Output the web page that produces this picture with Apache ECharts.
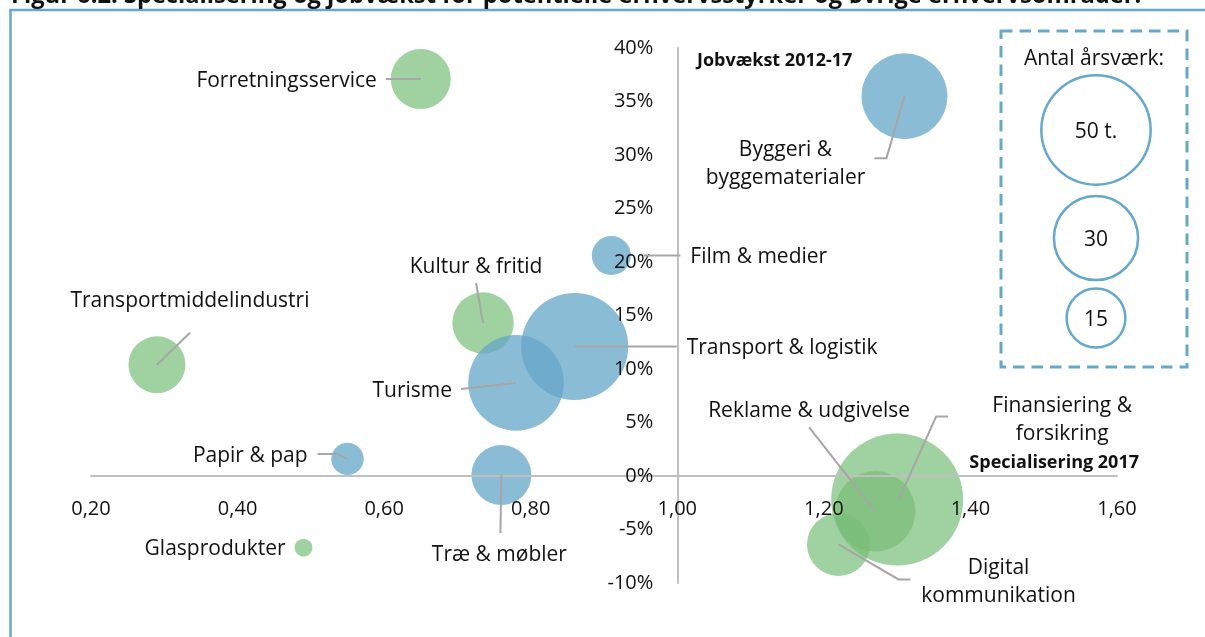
<!DOCTYPE html>
<html>
<head>
<meta charset="utf-8">
<script src="https://cdn.jsdelivr.net/npm/echarts@6/dist/echarts.min.js"></script>
<style>
html,body{margin:0;padding:0;background:#fff;}
#chart{width:1205px;height:637px;}
</style>
</head>
<body>
<div id="chart"></div>
<script>
// ---------- DATA ----------
// Green group (øvrige erhvervsområder)
const greenNames = ['Forretningsservice', 'Transportmiddelindustri', 'Kultur & fritid', 'Glasprodukter',
  'Finansiering & forsikring', 'Reklame & udgivelse', 'Digital kommunikation'];
const greenSpec = [0.65, 0.29, 0.735, 0.49, 1.30, 1.27, 1.22];      // Specialisering 2017
const greenJob = [37.1, 10.4, 14.3, -6.7, -2.2, -3.3, -6.4];        // Jobvækst 2012-17 (%)
const greenEmp = [14.4, 13.0, 15.1, 1.3, 69.8, 25.9, 15.9];        // Antal årsværk (t.)

// Blue group (potentielle erhvervsstyrker)
const blueNames = ['Byggeri & byggematerialer', 'Film & medier', 'Transport & logistik', 'Turisme',
  'Papir & pap', 'Træ & møbler'];
const blueSpec = [1.31, 0.91, 0.86, 0.78, 0.55, 0.76];
const blueJob = [35.5, 20.6, 12.1, 8.7, 1.6, 0.1];
const blueEmp = [29.6, 6.1, 45.9, 36.6, 4.2, 14.4];

// Axis ticks
const xTicks = { min: 0.2, max: 1.6, interval: 0.2 };
const yTicks = { min: -10, max: 40, interval: 5 };
const legendValues = [50, 30, 15];
const legendLabels = ['50 t.', '30', '15'];

// ---------- LAYOUT (label placement, px offsets from bubble centre) ----------
const labelLayout = {
  'Forretningsservice': { text: 'Forretningsservice', tx: -44, ty: 0, align: 'right', line: [[-35, 0], [0, 0]] },
  'Transportmiddelindustri': { text: 'Transportmiddelindustri', tx: 33, ty: -65, align: 'center', line: [[0, 0], [33, -32]] },
  'Kultur & fritid': { text: 'Kultur & fritid', tx: -7, ty: -57, align: 'center', line: [[0, 0], [-7, -40]] },
  'Glasprodukter': { text: 'Glasprodukter', tx: -18, ty: 0, align: 'right', line: null },
  'Finansiering & forsikring': { text: 'Finansiering &\nforsikring', tx: 165, ty: -81, align: 'center', line: [[2, -1], [39, -83], [51, -83]] },
  'Reklame & udgivelse': { text: 'Reklame & udgivelse', tx: -66, ty: -102, align: 'center', line: [[0, 0], [-66, -84]] },
  'Digital kommunikation': { text: 'Digital\nkommunikation', tx: 160, ty: 36, align: 'center', line: [[0, 0], [60, 35], [72, 35]] },
  'Byggeri & byggematerialer': { text: 'Byggeri &\nbyggematerialer', tx: -119, ty: 66, align: 'center', line: [[0, 0], [-18, 62], [-30, 62]] },
  'Film & medier': { text: 'Film & medier', tx: 79, ty: 0, align: 'left', line: [[32, 0], [69, 0]] },
  'Transport & logistik': { text: 'Transport & logistik', tx: 112, ty: 0, align: 'left', line: [[0, 0], [102, 0]] },
  'Turisme': { text: 'Turisme', tx: -64, ty: 7, align: 'right', line: [[0, 0], [-55, 6]] },
  'Papir & pap': { text: 'Papir & pap', tx: -40, ty: -4, align: 'right', line: [[0, 0], [-11, -5], [-30, -5]] },
  'Træ & møbler': { text: 'Træ & møbler', tx: -2, ty: 79, align: 'center', line: [[0, 0], [-1, 58]] }
};

const FONT = '"Open Sans", "Noto Sans", sans-serif';
const TXT = '#111';
const LABEL_FS = 21;
const TICK_FS = 20;
const GRID = { left: 91, right: 88, top: 48, bottom: 54 };
const W = 1205, H = 637;
const sizeK = 15.8; // diameter = k * sqrt(value)
function diam(v) { return sizeK * Math.sqrt(v); }

function fmtX(v) { return v.toFixed(2).replace('.', ','); }

const greenData = greenNames.map((n, i) => ({ name: n, value: [greenSpec[i], greenJob[i], greenEmp[i]] }));
const blueData = blueNames.map((n, i) => ({ name: n, value: [blueSpec[i], blueJob[i], blueEmp[i]] }));
const allNames = greenNames.concat(blueNames);
const labelData = greenData.concat(blueData).map(d => ({ name: d.name, value: [d.value[0], d.value[1]] }));

// y axis sits at x = 1.00, x axis sits at y = 0 %
const plotW = W - GRID.left - GRID.right;
const plotH = H - GRID.top - GRID.bottom;
const yAxisOffset = -((1.0 - xTicks.min) / (xTicks.max - xTicks.min)) * plotW;
const xAxisOffset = -((0 - yTicks.min) / (yTicks.max - yTicks.min)) * plotH;

const chart = echarts.init(document.getElementById('chart'), null, { renderer: 'canvas' });

const legendBox = { x: 1001, y: 31, w: 186, h: 336 };
const legendCx = 1096;
const legendCy = [130, 238, 318];
const legendColor = '#65A8CC';

const graphics = [
  { type: 'rect', shape: { x: 10.5, y: 10, width: 1400, height: 800 }, style: { fill: null, stroke: legendColor, lineWidth: 2.5 }, z: 100 },
  { type: 'text', x: 11, y: -4, style: { text: 'Figur 6.2: Specialisering og jobvækst for potentielle erhvervsstyrker og øvrige erhvervsområder.', font: 'bold 23.7px ' + FONT, fill: TXT, verticalAlign: 'middle', align: 'left' }, z: 100 },
  { type: 'rect', shape: { x: legendBox.x, y: legendBox.y, width: legendBox.w, height: legendBox.h }, style: { fill: null, stroke: legendColor, lineWidth: 3, lineDash: [11.5, 7] }, z: 100 },
  { type: 'text', x: legendCx - 2, y: 59, style: { text: 'Antal årsværk:', font: LABEL_FS + 'px ' + FONT, fill: TXT, align: 'center', verticalAlign: 'middle' }, z: 100 },
  { type: 'text', x: 697, y: 61, style: { text: 'Jobvækst 2012-17', font: 'bold 18px ' + FONT, fill: TXT, align: 'left', verticalAlign: 'middle' }, z: 100 },
  { type: 'text', x: 1139, y: 463, style: { text: 'Specialisering 2017', font: 'bold 18px ' + FONT, fill: TXT, align: 'right', verticalAlign: 'middle' }, z: 100 }
];
legendValues.forEach((v, i) => {
  graphics.push({ type: 'circle', shape: { cx: legendCx, cy: legendCy[i], r: diam(v) / 2 - 1.2 }, style: { fill: '#fff', stroke: legendColor, lineWidth: 2.5 }, z: 100 });
  graphics.push({ type: 'text', x: legendCx, y: legendCy[i] + 2, style: { text: legendLabels[i], font: LABEL_FS + 'px ' + FONT, fill: TXT, align: 'center', verticalAlign: 'middle' }, z: 101 });
});

const option = {
  animation: false,
  backgroundColor: '#fff',
  textStyle: { fontFamily: FONT },
  grid: { left: GRID.left, right: GRID.right, top: GRID.top, bottom: GRID.bottom, containLabel: false, outerBoundsMode: 'none' },
  xAxis: {
    type: 'value', min: xTicks.min, max: xTicks.max, interval: xTicks.interval,
    position: 'bottom', offset: xAxisOffset,
    axisLine: { show: true, onZero: false, lineStyle: { color: '#BFBFBF', width: 2 } },
    axisTick: { show: false },
    splitLine: { show: false },
    axisLabel: { formatter: fmtX, fontSize: TICK_FS, color: TXT, fontFamily: FONT, margin: 23 },
    z: 5
  },
  yAxis: {
    type: 'value', min: yTicks.min, max: yTicks.max, interval: yTicks.interval,
    position: 'left', offset: yAxisOffset,
    axisLine: { show: true, onZero: false, lineStyle: { color: '#BFBFBF', width: 2 } },
    axisTick: { show: false },
    splitLine: { show: false },
    axisLabel: { formatter: v => v + '%', fontSize: TICK_FS, color: TXT, fontFamily: FONT, margin: 24 },
    z: 5
  },
  series: [
    {
      type: 'scatter', name: 'Øvrige', data: greenData,
      symbolSize: v => diam(v[2]),
      itemStyle: { color: 'rgba(120,190,120,0.7)', opacity: 1 },
      emphasis: { disabled: true }, silent: true, z: 2
    },
    {
      type: 'scatter', name: 'Potentielle', data: blueData,
      symbolSize: v => diam(v[2]),
      itemStyle: { color: 'rgba(100,166,200,0.75)', opacity: 1 },
      emphasis: { disabled: true }, silent: true, z: 2
    },
    {
      type: 'custom', name: 'labels', data: labelData, silent: true, clip: false, z: 10,
      renderItem: function (params, api) {
        const nm = allNames[params.dataIndex];
        const L = labelLayout[nm];
        const c = api.coord([api.value(0), api.value(1)]);
        const children = [];
        if (L.line) {
          children.push({
            type: 'polyline',
            shape: { points: L.line.map(p => [c[0] + p[0], c[1] + p[1]]) },
            style: { stroke: '#A6A6A6', lineWidth: 2, fill: null }
          });
        }
        children.push({
          type: 'text', x: c[0] + L.tx, y: c[1] + L.ty + 1.5,
          style: { text: L.text, fill: TXT, font: LABEL_FS + 'px ' + FONT, align: L.align, verticalAlign: 'middle', lineHeight: 28 }
        });
        return { type: 'group', children: children };
      }
    }
  ],
  graphic: graphics
};
chart.setOption(option);
</script>
</body>
</html>
